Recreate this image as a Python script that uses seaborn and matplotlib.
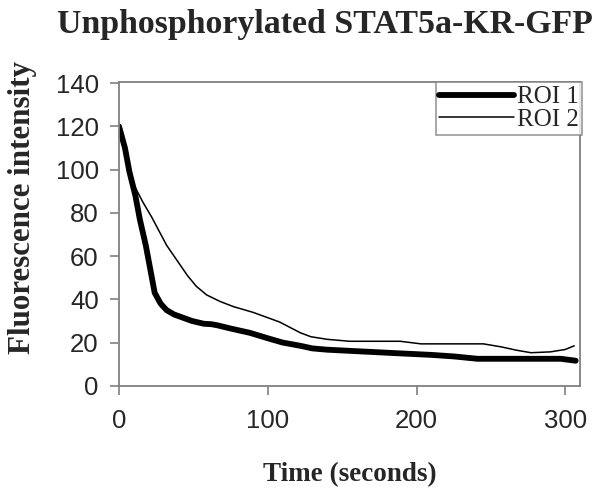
import numpy as np
import pandas as pd
import matplotlib
matplotlib.use("Agg")
import matplotlib.pyplot as plt
import seaborn as sns

# values
roi1_time = [0, 4, 7, 11, 14, 18, 21, 24, 28, 32, 37, 41, 49, 57, 62, 66, 75, 88, 100, 110, 122, 130, 140, 160, 189, 210, 225, 241, 260, 280, 297, 307]
roi1_vals = [120, 110, 99, 88, 77, 65, 54, 43, 38, 35, 33, 32, 30, 28.7, 28.5, 28, 26.5, 24.5, 22, 20, 18.5, 17.3, 16.7, 16, 15, 14.3, 13.6, 12.5, 12.5, 12.5, 12.5, 11.6]

roi2_time = [0, 4, 7, 10, 16, 22, 32, 43, 46, 52, 59, 68, 77, 90, 100, 108, 115, 122, 129, 140, 155, 175, 189, 203, 225, 245, 257, 267, 277, 290, 300, 306]
roi2_vals = [121, 108, 99, 93, 85, 78, 65, 54, 51, 46, 42, 39, 36.6, 34, 31.5, 29.5, 27, 24.5, 22.7, 21.5, 20.6, 20.6, 20.6, 19.4, 19.4, 19.4, 18, 16.5, 15.3, 15.7, 16.8, 18.5]

series_names = ["ROI 1", "ROI 2"]

df = pd.concat([
    pd.DataFrame({"time": roi1_time, "intensity": roi1_vals, "roi": series_names[0]}),
    pd.DataFrame({"time": roi2_time, "intensity": roi2_vals, "roi": series_names[1]}),
])

sns.set_style("ticks")
plt.rcParams["font.family"] = ["Liberation Sans", "DejaVu Sans"]

fig = plt.figure(figsize=(5.95, 4.94), dpi=100)
ax = fig.add_axes([0.2, 0.219, 0.775, 0.615])

sns.lineplot(data=df, x="time", y="intensity", hue="roi", size="roi",
             sizes={"ROI 1": 4.2, "ROI 2": 1.1},
             palette={"ROI 1": "black", "ROI 2": "black"},
             estimator=None, sort=False, ax=ax)
for ln in ax.lines:
    ln.set_solid_joinstyle("round")
    ln.set_solid_capstyle("round")

ax.set_xlim(0, 310)
ax.set_ylim(0, 140.5)
ax.set_xticks([0, 100, 200, 300])
ax.set_yticks(range(0, 141, 20))
ax.tick_params(axis="both", labelsize=18.5, color="#808080", length=6.5, width=1.2)
ax.tick_params(axis="x", pad=10)
ax.tick_params(axis="y", pad=8)

for side in ["left", "right", "top", "bottom"]:
    ax.spines[side].set_visible(True)
    ax.spines[side].set_color("#808080")
    ax.spines[side].set_linewidth(1.3)

ax.set_xlabel("Time (seconds)", family="Liberation Serif", fontweight="bold", fontsize=19.5)
ax.set_ylabel("Fluorescence intensity", family="Liberation Serif", fontweight="bold", fontsize=22.3)
ax.xaxis.set_label_coords(0.5, -0.25)
ax.yaxis.set_label_coords(-0.178, 0.586)

leg = ax.legend(loc="upper right", bbox_to_anchor=(1.005, 1.0), frameon=True, fancybox=False,
                prop={"family": "Liberation Serif", "size": 18}, handlelength=3.0,
                borderpad=0.15, labelspacing=0.0, handletextpad=0.1, borderaxespad=0)
leg.get_frame().set_edgecolor("#808080")
leg.get_frame().set_linewidth(1.2)

fig.text(0.546, 1 - 33 / 494, "Unphosphorylated STAT5a-KR-GFP", ha="center", va="baseline",
         family="Liberation Serif", fontweight="bold", fontsize=24.4)

plt.savefig("out.png", dpi=100)
